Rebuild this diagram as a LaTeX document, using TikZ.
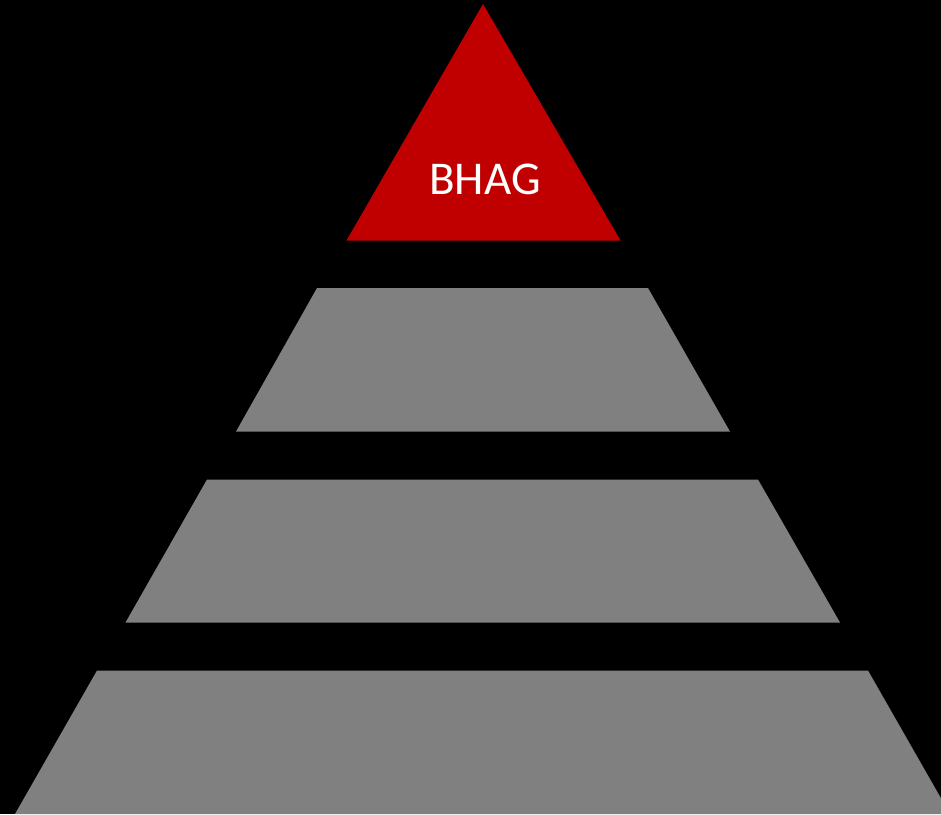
\documentclass[tikz,border=0pt]{standalone}
\usepackage{fontspec}
\setmainfont{Carlito}
\definecolor{bhagred}{HTML}{C00000}
\definecolor{layergray}{HTML}{808080}
\tikzset{layer/.style={fill=layergray,draw=none},
  tip/.style={fill=bhagred,draw=none}}
\begin{document}
\begin{tikzpicture}[x=1pt,y=-1pt]
\fill[black] (0,0) rectangle (941,814);
\useasboundingbox (0,0) rectangle (941,814);
\fill[tip] (483,4) -- (620.5,240.5) -- (346.5,240.5) -- cycle;
\node[text=white,font=\fontsize{47}{56}\selectfont,inner sep=0pt] (bhag) at (485,179) {BHAG};
\fill[layer] (317,288) -- (648,288) -- (730,431.5) -- (236,431.5) -- cycle;
\fill[layer] (207,479.5) -- (758,479.5) -- (840,622.5) -- (125.5,622.5) -- cycle;
\fill[layer] (97,670.5) -- (868,670.5) -- (950,814) -- (15,814) -- cycle;
\end{tikzpicture}
\end{document}
